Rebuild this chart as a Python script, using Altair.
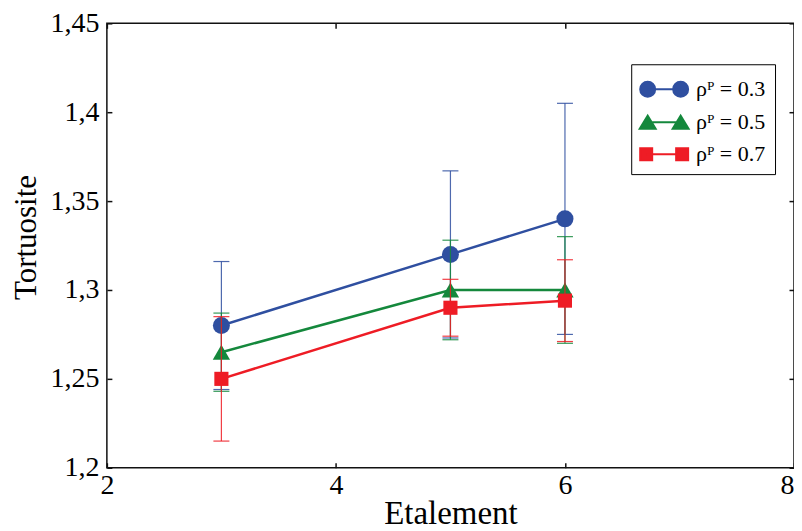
import altair as alt
import pandas as pd

# ---------------- data ----------------
etalement = [3, 5, 6]
series_labels = ["ρᴾ = 0.3", "ρᴾ = 0.5", "ρᴾ = 0.7"]
tortuosite_03 = [1.280, 1.320, 1.340]
erreur_03 = [0.036, 0.047, 0.065]
tortuosite_05 = [1.265, 1.300, 1.300]
erreur_05 = [0.022, 0.028, 0.030]
tortuosite_07 = [1.250, 1.290, 1.294]
erreur_07 = [0.035, 0.016, 0.023]
x_ticks = [2, 4, 6, 8]
y_ticks = [1.2, 1.25, 1.3, 1.35, 1.4, 1.45]

# ---------------- styles ----------------
series_colors = ["#2f4fa0", "#14883c", "#ee1c25"]
point_shapes = ["circle", "triangle-up", "square"]
point_sizes = [290, 300, 200]


def circle_path(c, r):
    return f"M {c - r} 0 A {r} {r} 0 1 0 {c + r} 0 A {r} {r} 0 1 0 {c - r} 0 Z"


def tri_path(c, w, h):
    return f"M {c - w} {h} L {c + w} {h} L {c} {-h} Z"


def sq_path(c, s):
    return f"M {c - s} {-s} L {c + s} {-s} L {c + s} {s} L {c - s} {s} Z"


legend_paths = [
    circle_path(-1.1, 0.5) + " " + circle_path(1.1, 0.5) + " M -1.1 0 L 1.1 0",
    tri_path(-1.1, 0.53, 0.43) + " " + tri_path(1.1, 0.53, 0.43) + " M -1.1 0 L 1.1 0",
    sq_path(-1.2, 0.4) + " " + sq_path(1.2, 0.4) + " M -1.2 0 L 1.2 0",
]

rows = []
for lab, ys, es in zip(series_labels,
                       [tortuosite_03, tortuosite_05, tortuosite_07],
                       [erreur_03, erreur_05, erreur_07]):
    for x, y, e in zip(etalement, ys, es):
        rows.append({"etalement": x, "tortuosite": y, "lo": y - e, "hi": y + e, "serie": lab})
df = pd.DataFrame(rows)

FONT = "Liberation Serif"
xs = alt.Scale(domain=[2, 8], nice=False, zero=False)
ysc = alt.Scale(domain=[1.2, 1.45], nice=False, zero=False)
# reversed order so that this (legend-less) scale is not merged with the legend scales
cs = alt.Scale(domain=series_labels[::-1], range=series_colors[::-1])

ax_bottom = alt.Axis(orient="bottom", values=x_ticks, title="Etalement", offset=-5, tickSize=5,
                     domain=False, grid=False, labelPadding=4, titlePadding=-2, format="d",
                     labelFontSize=28, titleFontSize=33, labelFlush=False,
                     labelAlign={"condition": {"test": "datum.value >= 8", "value": "right"},
                                 "value": "center"})
ax_left = alt.Axis(orient="left", values=y_ticks, title="Tortuosite", offset=-5, tickSize=5,
                   domain=False, grid=False, labelPadding=8, titlePadding=7,
                   labelExpr="replace(format(datum.value, '~g'), '.', ',')",
                   labelFontSize=28, titleFontSize=31, titleY=214, labelFlush=False)
ax_top = alt.Axis(orient="top", values=x_ticks, title=None, labels=False, offset=-5, tickSize=5,
                  domain=False, grid=False)
ax_right = alt.Axis(orient="right", values=y_ticks, title=None, labels=False, offset=-5, tickSize=5,
                    domain=False, grid=False)

layers = []
for i, lab in enumerate(series_labels):
    base = alt.Chart(df).transform_filter(alt.datum.serie == lab)
    if i == 0:
        xa1, ya1, xa2, ya2 = ax_bottom, ax_left, ax_top, ax_right
    else:
        xa1 = ya1 = xa2 = ya2 = None
    col = alt.Color("serie:N", scale=cs, legend=None)
    rule = base.mark_rule(strokeWidth=1.2, opacity=0.85).encode(
        x=alt.X("etalement:Q", scale=xs, axis=xa1),
        y=alt.Y("lo:Q", scale=ysc, axis=ya1),
        y2="hi:Q",
        color=col,
    )
    caps = base.transform_fold(["lo", "hi"], as_=["bout", "val"]).mark_tick(
        orient="horizontal", size=16, thickness=1.2, opacity=0.85
    ).encode(
        x=alt.X("etalement:Q", scale=xs, axis=xa2),
        y=alt.Y("val:Q", scale=ysc, axis=ya2),
        color=col,
    )
    line = base.mark_line(strokeWidth=2.5).encode(
        x=alt.X("etalement:Q", scale=xs, axis=None),
        y=alt.Y("tortuosite:Q", scale=ysc, axis=None),
        color=col,
    )
    pts = base.mark_point(shape=point_shapes[i], filled=True, opacity=1, size=point_sizes[i]).encode(
        x=alt.X("etalement:Q", scale=xs, axis=None),
        y=alt.Y("tortuosite:Q", scale=ysc, axis=None),
        color=col,
    )
    layers += [rule, caps, line, pts]

leg_kwargs = dict(
    orient="none", legendX=525, legendY=41, title=None, fillColor="white",
    strokeColor="black", padding=9, cornerRadius=0, symbolSize=900,
    symbolOffset=8, labelOffset=16, rowPadding=5, symbolStrokeWidth=2,
    labelFont=FONT, labelFontSize=22, labelColor="black", symbolOpacity=1,
)
legend_layer = alt.Chart(df).transform_filter("false").mark_point(
    filled=True, opacity=1, size=900, strokeWidth=2
).encode(
    x=alt.X("etalement:Q", scale=xs, axis=None),
    y=alt.Y("tortuosite:Q", scale=ysc, axis=None),
    fill=alt.Fill("serie:N", scale=alt.Scale(domain=series_labels, range=series_colors),
                  legend=alt.Legend(**leg_kwargs)),
    stroke=alt.Stroke("serie:N", scale=alt.Scale(domain=series_labels, range=series_colors),
                      legend=alt.Legend(**leg_kwargs)),
    shape=alt.Shape("serie:N", scale=alt.Scale(domain=series_labels, range=legend_paths),
                    legend=alt.Legend(**leg_kwargs)),
)
layers.append(legend_layer)

chart = alt.layer(*layers).resolve_axis(x="independent", y="independent").properties(
    width=688, height=445,
    autosize=alt.AutoSizeParams(type="none"),
    padding={"left": 99, "top": 15, "right": 0, "bottom": 62},
    background="white",
).configure_view(
    stroke="#111111", strokeWidth=1.5
).configure_axis(
    labelFont=FONT, titleFont=FONT, labelColor="black", titleColor="black",
    titleFontWeight="normal", tickColor="#111111", tickWidth=1.5,
).configure_legend(
    labelFont=FONT
)

chart.save("out.html", embed_options={"renderer": "svg", "actions": False})
